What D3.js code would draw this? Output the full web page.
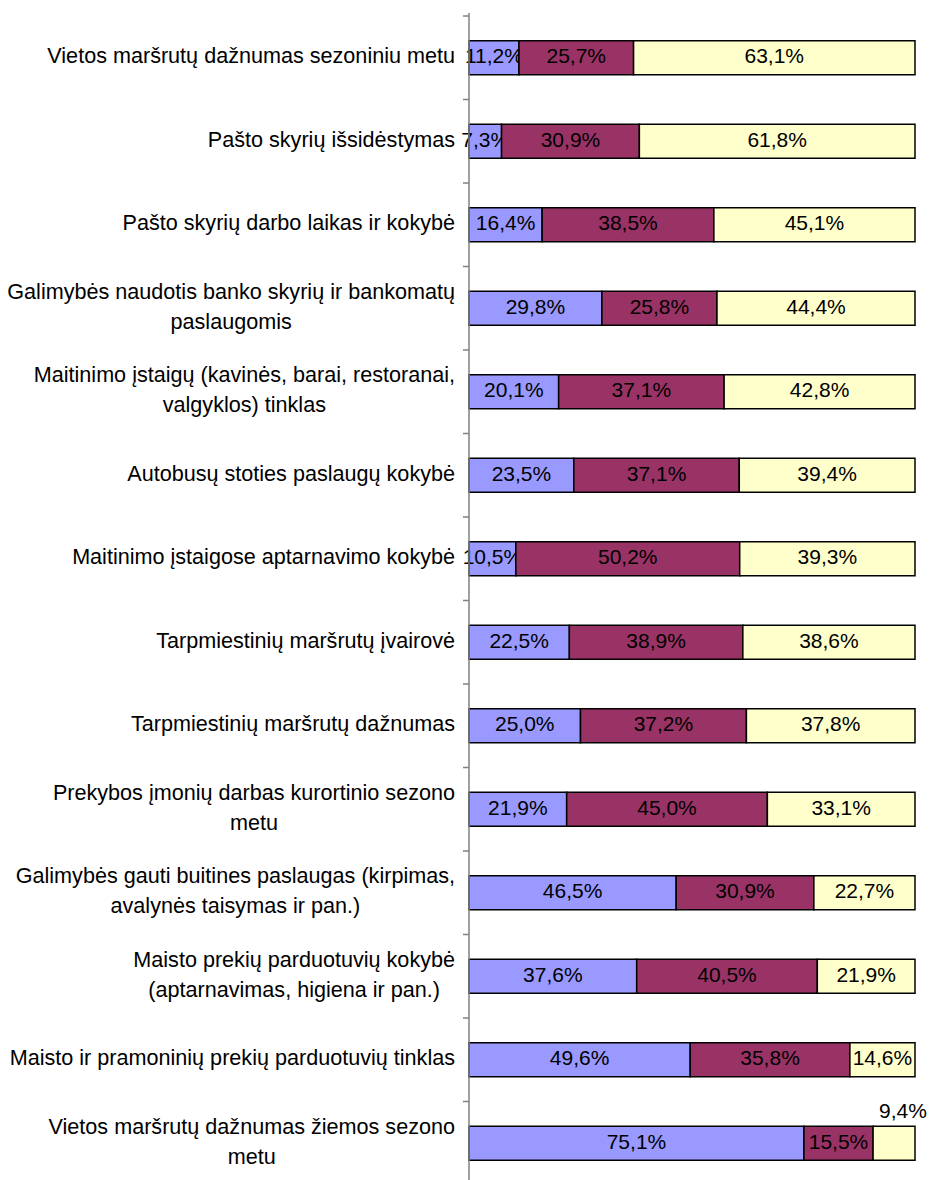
<!DOCTYPE html>
<html>
<head>
<meta charset="utf-8">
<script src="https://cdn.jsdelivr.net/npm/d3@7"></script>
<style>
  body { margin: 0; background: #fff; }
  svg text { font-family: "Liberation Sans", Arial, sans-serif; fill: #000; }
</style>
</head>
<body>
<div id="chart"></div>
<script>
var categories = [
  'Vietos maršrutų dažnumas sezoniniu metu',
  'Pašto skyrių išsidėstymas',
  'Pašto skyrių darbo laikas ir kokybė',
  'Galimybės naudotis banko skyrių ir bankomatų\npaslaugomis',
  'Maitinimo įstaigų (kavinės, barai, restoranai,\nvalgyklos) tinklas',
  'Autobusų stoties paslaugų kokybė',
  'Maitinimo įstaigose aptarnavimo kokybė',
  'Tarpmiestinių maršrutų įvairovė',
  'Tarpmiestinių maršrutų dažnumas',
  'Prekybos įmonių darbas kurortinio sezono\nmetu',
  'Galimybės gauti buitines paslaugas (kirpimas,\navalynės taisymas ir pan.)',
  'Maisto prekių parduotuvių kokybė\n(aptarnavimas, higiena ir pan.)',
  'Maisto ir pramoninių prekių parduotuvių tinklas',
  'Vietos maršrutų dažnumas žiemos sezono\nmetu'
];

var seriesA = [11.2, 7.3, 16.4, 29.8, 20.1, 23.5, 10.5, 22.5, 25.0, 21.9, 46.5, 37.6, 49.6, 75.1];
var seriesB = [25.7, 30.9, 38.5, 25.8, 37.1, 37.1, 50.2, 38.9, 37.2, 45.0, 30.9, 40.5, 35.8, 15.5];
var seriesC = [63.1, 61.8, 45.1, 44.4, 42.8, 39.4, 39.3, 38.6, 37.8, 33.1, 22.7, 21.9, 14.6, 9.4];

var seriesKeys = ['a', 'b', 'c'];
var seriesColors = ['#9999ff', '#993366', '#ffffcc'];

var vWidth = 929,
  vHeight = 1180,
  axisX = 469,
  barRight = 915,
  bandTop = 16,
  bandBottom = 1185,
  barHeight = 34,
  valueFont = 21,
  labelFont = 21.6;

var rows = categories.map(function(c, i) {
  return { cat: c, a: seriesA[i], b: seriesB[i], c: seriesC[i] };
});

var stacked = d3.stack()
  .keys(seriesKeys)
  .offset(d3.stackOffsetExpand)(rows);

var svg = d3.select('#chart')
  .append('svg')
  .attr('width', vWidth)
  .attr('height', vHeight);

var y = d3.scaleBand()
  .domain(categories)
  .range([bandTop, bandBottom]);

var x = d3.scaleLinear()
  .domain([0, 1])
  .range([axisX, barRight]);

var lastCat = categories[categories.length - 1];

// bars
stacked.forEach(function(layer, k) {
  var g = svg.append('g').attr('class', 'series-' + seriesKeys[k]);

  g.selectAll('rect')
    .data(layer)
    .enter()
    .append('rect')
    .attr('x', function(d) { return x(d[0]); })
    .attr('y', function(d) { return y(d.data.cat) + y.bandwidth() / 2 - barHeight / 2; })
    .attr('width', function(d) { return x(d[1]) - x(d[0]); })
    .attr('height', barHeight)
    .attr('fill', seriesColors[k])
    .attr('stroke', '#000')
    .attr('stroke-width', 1.5);

  g.selectAll('text')
    .data(layer)
    .enter()
    .append('text')
    .attr('text-anchor', 'middle')
    .style('font-size', valueFont + 'px')
    .attr('x', function(d) {
      var cx = (x(d[0]) + x(d[1])) / 2;
      // last row's small yellow value sits above the bar
      if (k === 2 && d.data.cat === lastCat) cx += 9;
      return cx;
    })
    .attr('y', function(d) {
      var cy = y(d.data.cat) + y.bandwidth() / 2;
      if (k === 2 && d.data.cat === lastCat) {
        return cy - barHeight / 2 - 8;
      }
      return cy + 5.5;
    })
    .text(function(d) {
      return d.data[seriesKeys[k]].toFixed(1).replace('.', ',') + '%';
    });
});

// category axis
var axisG = svg.append('g');

axisG.append('line')
  .attr('x1', axisX).attr('x2', axisX)
  .attr('y1', bandTop - 3).attr('y2', bandBottom)
  .attr('stroke', '#808080')
  .attr('stroke-width', 1.5);

var tickYs = categories.map(function(c) { return y(c); });
tickYs.push(bandBottom);

axisG.selectAll('.tick')
  .data(tickYs)
  .enter()
  .append('line')
  .attr('class', 'tick')
  .attr('x1', axisX - 6).attr('x2', axisX)
  .attr('y1', function(d) { return d; })
  .attr('y2', function(d) { return d; })
  .attr('stroke', '#808080')
  .attr('stroke-width', 1.5);

// category labels, multi-line ones centred as a block
var labelRight = 455,
  lineGap = 30;

categories.forEach(function(c) {
  var lines = c.split('\n');
  var cy = y(c) + y.bandwidth() / 2 + 5.5;
  var t = axisG.append('text')
    .style('font-size', labelFont + 'px');

  if (lines.length === 1) {
    t.attr('text-anchor', 'end')
      .attr('x', labelRight)
      .attr('y', cy)
      .text(c);
    return;
  }

  var spans = lines.map(function(l, i) {
    return t.append('tspan')
      .attr('y', cy + (i - (lines.length - 1) / 2) * lineGap)
      .text(l);
  });
  var maxW = d3.max(spans, function(s) { return s.node().getComputedTextLength(); });
  t.attr('text-anchor', 'middle');
  spans.forEach(function(s) {
    s.attr('x', labelRight - maxW / 2);
  });
});
</script>
</body>
</html>
